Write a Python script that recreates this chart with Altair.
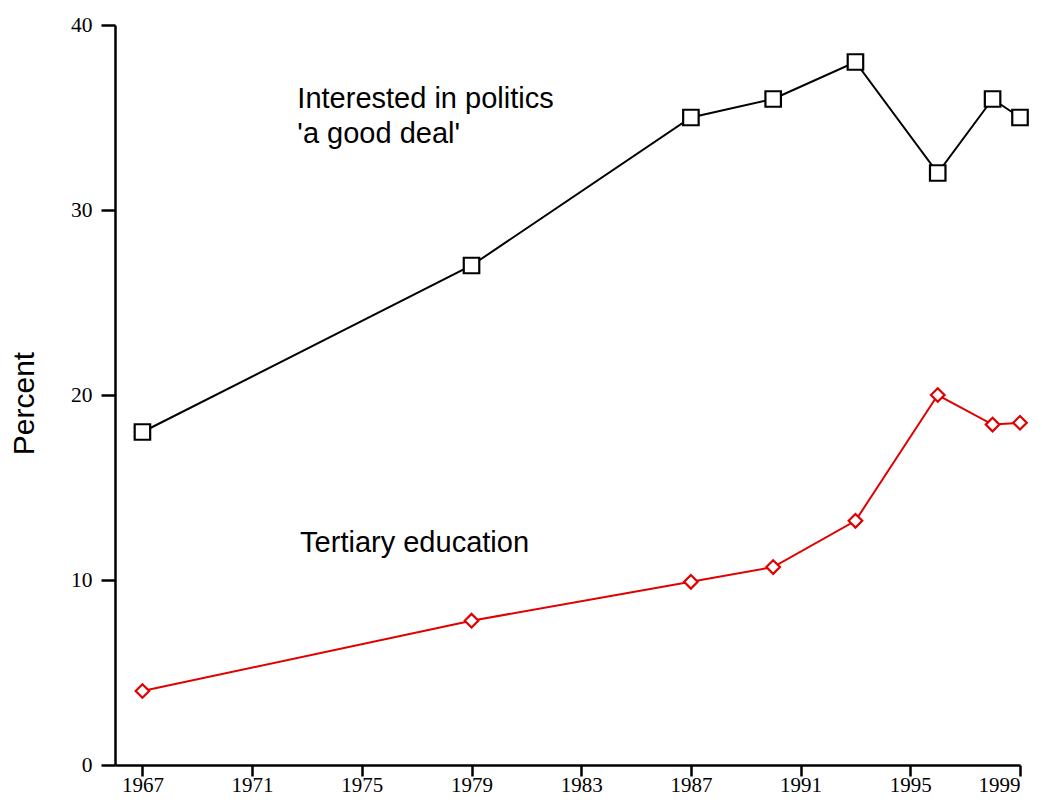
import altair as alt
import pandas as pd

# ---- data ----
years = [1967, 1979, 1987, 1990, 1993, 1996, 1998, 1999]
politics = [18.0, 27.0, 35.0, 36.0, 38.0, 32.0, 36.0, 35.0]
tertiary = [4.0, 7.8, 9.9, 10.7, 13.2, 20.0, 18.4, 18.5]

series_names = ["Interested in politics", "Tertiary education"]
series_colors = ["#000000", "#e00000"]
series_shapes = ["square", "diamond"]
series_sizes = [240, 185]

x_ticks = list(range(1967, 2000, 4))
y_ticks = [0, 10, 20, 30, 40]

label_texts = ["Interested in politics", "'a good deal'", "Tertiary education"]
label_x = [1972.65, 1972.65, 1972.75]
label_y = [35.5, 33.6, 11.5]

# ---- tables ----
rows = []
for yr, v in zip(years, politics):
    rows.append({"year": yr, "pct": v, "series": series_names[0]})
for yr, v in zip(years, tertiary):
    rows.append({"year": yr, "pct": v, "series": series_names[1]})
df = pd.DataFrame(rows)

labels = pd.DataFrame({"text": label_texts, "year": label_x, "pct": label_y})

x_scale = alt.Scale(domain=[1966, 1999], nice=False, zero=False)
y_scale = alt.Scale(domain=[0, 40], nice=False)

x_enc = alt.X(
    "year:Q",
    scale=x_scale,
    axis=alt.Axis(
        values=x_ticks, format="d", title=None, tickSize=11, labelPadding=15,
        labelBaseline="alphabetic", labelFontSize=21,
    ),
)
y_enc = alt.Y(
    "pct:Q",
    scale=y_scale,
    axis=alt.Axis(
        values=y_ticks, title="Percent", tickSize=14, labelPadding=9,
        labelFontSize=21.5,
        titleFont="Liberation Sans", titleFontSize=30, titleFontWeight="normal",
        titleX=-82, titleY=378, titleAngle=270, titleAlign="center",
        titleBaseline="alphabetic",
    ),
)
color_enc = alt.Color(
    "series:N",
    scale=alt.Scale(domain=series_names, range=series_colors),
    legend=None,
)

lines = alt.Chart(df).mark_line(strokeWidth=2).encode(
    x=x_enc, y=y_enc, color=color_enc, detail="series:N"
)

points = alt.Chart(df).mark_point(filled=False, fill="white", fillOpacity=1,
                                  strokeWidth=2.2, opacity=1).encode(
    x=x_enc,
    y=y_enc,
    color=color_enc,
    shape=alt.Shape("series:N",
                    scale=alt.Scale(domain=series_names, range=series_shapes),
                    legend=None),
    size=alt.Size("series:N",
                  scale=alt.Scale(domain=series_names, range=series_sizes),
                  legend=None),
)

texts = alt.Chart(labels).mark_text(
    align="left", baseline="alphabetic", font="Liberation Sans", fontSize=29,
    color="black",
).encode(x=alt.X("year:Q", scale=x_scale), y=alt.Y("pct:Q", scale=y_scale),
         text="text:N")

chart = alt.layer(lines, points, texts).properties(
    width=905,
    height=740,
    autosize=alt.AutoSizeParams(type="none"),
    padding={"left": 107, "top": 17, "right": 12, "bottom": 30},
).configure_view(stroke=None).configure_axis(
    grid=False,
    domainColor="black",
    domainWidth=2.5,
    tickColor="black",
    tickWidth=2.5,
    labelColor="black",
    labelFont="Liberation Serif",
)

chart.save("out.html", embed_options={"renderer": "svg", "actions": False})
